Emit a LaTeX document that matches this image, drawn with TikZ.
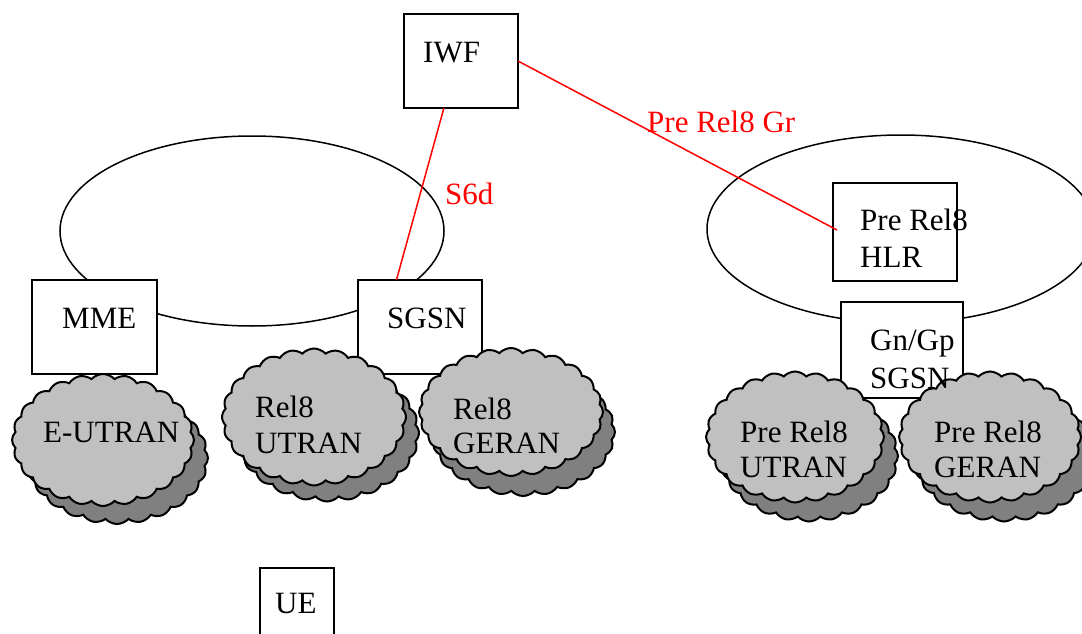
\documentclass[tikz,border=0pt]{standalone}
\usepackage{fontspec}
\setmainfont{Liberation Serif}
\usetikzlibrary{shapes.symbols,calc}
\definecolor{cloudfront}{HTML}{C0C0C0}
\definecolor{cloudshadow}{HTML}{808080}
\begin{document}
\begin{tikzpicture}[x=1pt,y=-1pt,
  box/.style={draw=black, line width=1.5pt, fill=white, anchor=north west, inner sep=0pt, outer sep=0pt},
  ring/.style={draw=black, line width=1.5pt},
  cloudbase/.style={shape=cloud, cloud puffs=24, cloud puff arc=95, aspect=1.4, draw=black, line width=2pt, inner sep=0pt, outer sep=0pt},
  cloudfg/.style={cloudbase, fill=cloudfront},
  cloudbg/.style={cloudbase, fill=cloudshadow},
  lbl/.style={anchor=base west, inner sep=0pt, font=\fontsize{31}{36}\selectfont},
  rlbl/.style={lbl, text=red},
  iface/.style={draw=red, line width=1.5pt}]
\useasboundingbox (0,0) rectangle (1082,634);
\clip (0,0) rectangle (1082,634);
% core rings
\draw[ring] (252,231) ellipse [x radius=192, y radius=95];
\draw[ring] (901,229) ellipse [x radius=194, y radius=94];
% boxes
\node[box, minimum width=114pt, minimum height=94pt] (iwf) at (404,14) {};
\node[box, minimum width=125pt, minimum height=94pt] (mme) at (32,280) {};
\node[box, minimum width=124pt, minimum height=94pt] (sgsn) at (358,280) {};
\node[box, minimum width=124pt, minimum height=98pt] (hlr) at (833,183) {};
\node[box, minimum width=122pt, minimum height=96pt] (gsgsn) at (841,302) {};
\node[box, minimum width=74pt, minimum height=90pt] (ue) at (260,568) {};
% clouds: shadows then fronts
\node[cloudbg, minimum width=182pt, minimum height=132pt] (eutranS) at (117,458) {};
\node[cloudfg, minimum width=182pt, minimum height=132pt] (eutran) at (103,440) {};
\node[cloudbg, minimum width=184pt, minimum height=137pt] (rutranS) at (327,433) {};
\node[cloudfg, minimum width=184pt, minimum height=137pt] (rutran) at (314,417) {};
\node[cloudbg, minimum width=184pt, minimum height=128pt] (rgeranS) at (523,432) {};
\node[cloudfg, minimum width=184pt, minimum height=128pt] (rgeran) at (511,412) {};
\node[cloudbg, minimum width=178pt, minimum height=131pt] (putranS) at (809,456) {};
\node[cloudfg, minimum width=178pt, minimum height=131pt] (putran) at (795,437) {};
\node[cloudbg, minimum width=182pt, minimum height=131pt] (pgeranS) at (1004,456) {};
\node[cloudfg, minimum width=182pt, minimum height=131pt] (pgeran) at (990,437) {};
% box texts
\node[lbl] (tiwf) at (423,63) {IWF};
\node[lbl] (tmme) at (62,328) {MME};
\node[lbl] (tsgsn) at (387,328) {SGSN};
\node[lbl] (thlra) at (860,230) {Pre Rel8};
\node[lbl] (thlrb) at (860,267) {HLR};
\node[lbl] (tgsgsna) at (870,350) {Gn/Gp};
\node[lbl] (tgsgsnb) at (870,388) {SGSN};
\node[lbl] (tue) at (275,613) {UE};
% cloud texts
\node[lbl] (teutran) at (43,442) {E-UTRAN};
\node[lbl] (truta) at (255,417) {Rel8};
\node[lbl] (trutb) at (255,453) {UTRAN};
\node[lbl] (trgea) at (453,419) {Rel8};
\node[lbl] (trgeb) at (453,453) {GERAN};
\node[lbl] (tputa) at (740,442) {Pre Rel8};
\node[lbl] (tputb) at (740,477) {UTRAN};
\node[lbl] (tpgea) at (934,442) {Pre Rel8};
\node[lbl] (tpgeb) at (934,477) {GERAN};
% interfaces
\draw[iface] ($(iwf.south west)!0.35!(iwf.south east)$) -- ($(sgsn.north west)!0.31!(sgsn.north east)$);
\draw[iface] (iwf.east) -- ($(hlr.west)+(4,-2)$);
\node[rlbl] (s6d) at (445,204) {S6d};
\node[rlbl] (gr) at (647,132) {Pre Rel8 Gr};
\end{tikzpicture}
\end{document}
